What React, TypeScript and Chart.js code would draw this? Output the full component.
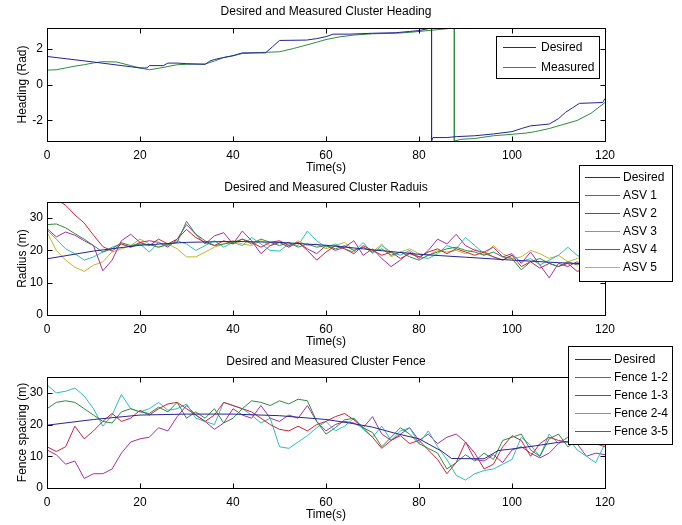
import React, { useEffect, useRef } from "react";
import { Chart, registerables } from "chart.js";

Chart.register(...registerables);

const FONT = "'Liberation Sans', Arial, Helvetica, sans-serif";

// ---------- Tick labels ----------
const timeTicks = [0, 20, 40, 60, 80, 100, 120];
const headingTicks = [-2, 0, 2];
const radiusTicks = [0, 10, 20, 30];
const fenceTicks = [0, 10, 20, 30];

// ---------- Heading subplot ----------
const desiredHeadingTime = [0, 10, 20, 21.5, 22, 25, 26, 28, 30, 34, 35, 36, 38, 40, 42, 47, 48.5, 50, 55.8, 58, 60, 61.5, 65, 70, 75, 78, 80, 82.7, 82.7, 83, 86, 88, 92, 96, 100, 102, 104, 108, 110, 111.5, 113, 114.5, 119.5, 120];
const desiredHeading = [1.56, 1.25, 0.92, 0.92, 1.05, 1.05, 1.19, 1.19, 1.16, 1.12, 1.3, 1.39, 1.5, 1.6, 1.76, 1.76, 2.1, 2.45, 2.47, 2.55, 2.66, 2.8, 2.8, 2.85, 2.88, 2.95, 3.0, 3.1416, -3.1416, -2.95, -2.95, -2.9, -2.85, -2.75, -2.62, -2.45, -2.3, -2.2, -1.9, -1.55, -1.3, -1.05, -1.0, -0.78];
const measuredHeadingTime = [0, 2, 4, 6, 8, 10, 12, 15, 18, 20, 22, 24, 26, 28, 30, 34, 36, 38, 40, 42, 46, 50, 53, 55, 58, 60, 63, 66, 70, 75, 78, 80, 84, 87.6, 87.6, 89, 92, 96, 100, 103, 105, 108, 110.5, 114, 117, 120];
const measuredHeading = [0.8, 0.82, 0.92, 1.02, 1.1, 1.2, 1.27, 1.25, 1.05, 0.92, 0.82, 0.9, 1.0, 1.1, 1.12, 1.14, 1.3, 1.5, 1.6, 1.72, 1.78, 1.82, 2.0, 2.14, 2.35, 2.5, 2.65, 2.75, 2.82, 2.85, 2.9, 2.95, 3.05, 3.1416, -3.1416, -3.05, -3.0, -2.85, -2.77, -2.7, -2.62, -2.45, -2.26, -2.0, -1.6, -1.0];

// ---------- Shared sample times for measured series ----------
const sampleTime = [0, 2, 4, 6, 8, 10, 12, 14, 16, 18, 20, 22, 24, 26, 28, 30, 32, 34, 36, 38, 40, 42, 44, 46, 48, 50, 52, 54, 56, 58, 60, 62, 64, 66, 68, 70, 72, 74, 76, 78, 80, 82, 84, 86, 88, 90, 92, 94, 96, 98, 100, 102, 104, 106, 108, 110, 112, 114, 116, 118, 120];

// ---------- Radius subplot ----------
const desiredRadiusTime = [0, 10, 20, 30, 40, 50, 60, 70, 80, 90, 100, 110, 120];
const desiredRadius = [17.4, 19.8, 21.6, 22.5, 22.8, 22.5, 21.6, 20.2, 18.8, 17.9, 17.0, 16.2, 15.6];
const asv1 = [28.0, 28.2, 27.0, 25.2, 23.5, 21.5, 19.5, 20.5, 22.4, 21.5, 22.0, 21.8, 21.0, 21.8, 22.5, 29.0, 25.0, 23.0, 21.5, 22.0, 22.5, 23.5, 22.0, 23.5, 22.5, 21.5, 22.5, 21.0, 22.0, 21.0, 21.5, 20.5, 21.5, 20.0, 21.0, 19.5, 20.5, 18.5, 19.5, 18.0, 17.0, 18.5, 19.5, 20.5, 21.0, 20.0, 19.5, 18.5, 19.5, 18.0, 17.5, 14.0, 16.5, 17.5, 16.0, 15.0, 16.5, 15.5, 17.0, 16.0, 15.5];
const asv2 = [37, 35.8, 34.0, 31.0, 28.5, 24.7, 21.2, 19.8, 22, 21, 22.5, 21.5, 23.5, 22.0, 23.5, 26.5, 24.0, 22.5, 21.5, 23.0, 22.0, 23.5, 22.5, 21.0, 22.5, 23.0, 21.5, 22.5, 20.0, 17.0, 19.5, 21.5, 20.5, 19.0, 21.5, 20.0, 18.5, 19.5, 17.5, 19.0, 18.0, 19.5, 20.5, 19.0, 20.5, 19.5, 18.5, 19.5, 18.0, 17.0, 18.5, 15.0, 16.5, 14.5, 16.0, 15.0, 16.0, 13.5, 14.5, 13.0, 14.0];
const asv3 = [26.3, 23.5, 20.5, 19.0, 17.0, 18.0, 19.5, 21.0, 22.0, 21.0, 22.0, 19.5, 22.5, 21.5, 23.0, 22.0, 20.0, 21.5, 23.0, 21.0, 22.5, 21.5, 24.0, 22.0, 20.0, 19.8, 22.0, 21.5, 26.0, 23.0, 21.0, 22.0, 20.5, 19.5, 22.5, 19.0, 21.5, 19.5, 18.5, 20.0, 18.0, 17.5, 19.0, 21.5, 20.5, 24.0, 21.5, 19.0, 18.0, 17.0, 18.5, 16.5, 17.5, 15.5, 17.0, 18.5, 21.0, 18.5, 17.0, 18.0, 17.5];
const asv4 = [26.8, 24.2, 25.7, 24.7, 23.0, 21.5, 13.7, 17.0, 23.0, 25.0, 22.5, 23.0, 22.5, 21.0, 23.5, 28.0, 25.0, 22.0, 24.5, 25.5, 22.0, 26.0, 23.0, 19.0, 21.5, 22.5, 21.0, 22.5, 20.5, 19.0, 21.5, 20.0, 21.0, 23.0, 18.5, 20.5, 17.5, 15.0, 17.0, 19.5, 17.5, 20.0, 23.5, 22.0, 25.0, 21.5, 20.0, 19.5, 21.0, 18.0, 19.0, 16.0, 19.5, 15.5, 11.5, 16.0, 15.0, 16.5, 14.0, 13.0, 14.0];
const asv5 = [25.7, 20.0, 17.0, 14.8, 13.5, 15.4, 16.5, 19.5, 20.5, 21.5, 23.5, 22.0, 21.0, 22.0, 20.5, 18.0, 18.0, 19.5, 21.0, 22.0, 23.0, 22.0, 21.5, 23.0, 21.5, 22.5, 21.0, 23.0, 21.5, 22.0, 20.5, 21.5, 22.5, 20.0, 21.0, 19.5, 22.0, 18.0, 19.5, 20.5, 19.0, 18.5, 20.0, 19.5, 20.0, 19.0, 20.5, 18.5, 21.5, 19.0, 17.5, 18.0, 20.0, 19.0, 17.5, 18.5, 16.5, 17.5, 18.5, 17.0, 18.0];

// ---------- Fence subplot ----------
const desiredFenceTime = [0, 10, 20, 30, 40, 50, 60, 65, 70, 75, 80, 85, 87, 94, 97, 100, 105, 110, 115, 120];
const desiredFence = [19.8, 21.6, 23.0, 23.3, 23.3, 22.8, 21.6, 20.5, 19.2, 17.2, 15.5, 11.5, 9.3, 9.2, 11.8, 12.3, 13.3, 14.4, 14.8, 15.0];
const fence12 = [25, 27, 27.5, 27, 25, 23, 21, 20.5, 24, 25, 24, 23.5, 25.5, 24, 27, 22, 24, 22, 25, 20.5, 22, 25, 27.5, 27, 26, 27.5, 26.5, 28, 27.5, 21, 17, 19, 21.5, 22, 19, 17.5, 13, 16, 19, 17, 14, 12.5, 11, 6, 8, 10.5, 8.5, 11, 9, 15, 16, 17, 12, 10, 15.5, 17, 13, 15, 16, 17, 15];
const fence13 = [13, 11.5, 13, 19.5, 15.5, 18, 21, 23.5, 21, 22, 24.5, 23, 25, 26.5, 27, 25, 23, 21, 23, 27, 26, 25, 24, 22, 20, 18.5, 18, 19.5, 18, 20, 21, 22.5, 23.5, 21.5, 19, 16, 12.5, 15, 16.5, 14, 15, 12, 9, 4.5, 8, 14.5, 11, 6, 7.5, 13, 16.5, 15, 10, 14, 16, 15, 14.5, 15.5, 16, 14, 13];
const fence24 = [32.5, 30, 30.5, 31.5, 29, 25, 19.5, 23, 29.5, 25, 24, 25, 27, 24.5, 25, 26.5, 22, 21, 20, 27, 26, 25, 23, 20.5, 22, 13, 12.5, 14.5, 16.5, 19, 21, 18, 19.5, 22, 18.5, 16, 19.5, 15, 18, 19, 14, 18, 13, 9, 4, 2.5, 4.5, 5.5, 6, 7.5, 9, 16, 13.5, 10, 17, 14, 16, 12, 10, 8, 14];
const fence35 = [12, 10.5, 7.5, 8.5, 3, 4.5, 4.5, 6, 11, 14.5, 15.5, 16, 19, 18, 22.5, 26, 23, 21, 18.5, 20.5, 25, 23, 22, 26, 22, 21, 23, 22, 26, 21, 18, 20, 21, 20.5, 19, 22.5, 17, 15, 17, 19, 15, 17, 14, 16, 17, 14.5, 9, 8.5, 10.5, 8, 12, 13, 11, 9.5, 11, 14, 16, 14, 10, 11, 10.5];

// ---------- Colours ----------
const C_DESIRED = "#24249c";
const C_GREEN = "#2e8b3e";
const C_RED = "#d42038";
const C_CYAN = "#2cbdbd";
const C_MAGENTA = "#a42ea4";
const C_YELLOW = "#c4b624";

const W = 682;
const H = 525;
const XH = 35; // x-axis band height
const YW = 47; // y-axis band width
const RIGHT_PAD = 77;

const pts = (xs: number[], ys: number[]) => xs.map((x, i) => ({ x, y: ys[i] }));

const line = (label: string, color: string, xs: number[], ys: number[]) => ({
  label,
  data: pts(xs, ys),
  borderColor: color,
  backgroundColor: color,
  borderWidth: 1,
  pointRadius: 0,
  fill: false,
  tension: 0,
});

const framePlugin = {
  id: "frame",
  afterDatasetsDraw(chart: any) {
    const { ctx, chartArea: a, scales } = chart;
    const x0 = Math.round(a.left) + 0.5;
    const x1 = Math.round(a.right) + 0.5;
    const y0 = Math.round(a.top) + 0.5;
    const y1 = Math.round(a.bottom) + 0.5;
    ctx.save();
    ctx.strokeStyle = "#000";
    ctx.lineWidth = 1;
    ctx.strokeRect(x0, y0, x1 - x0, y1 - y0);
    const TL = 5;
    ctx.beginPath();
    scales.x.ticks.forEach((t: any) => {
      const px = Math.round(scales.x.getPixelForValue(t.value)) + 0.5;
      ctx.moveTo(px, y1);
      ctx.lineTo(px, y1 - TL);
      ctx.moveTo(px, y0);
      ctx.lineTo(px, y0 + TL);
    });
    scales.y.ticks.forEach((t: any) => {
      const py = Math.round(scales.y.getPixelForValue(t.value)) + 0.5;
      ctx.moveTo(x0, py);
      ctx.lineTo(x0 + TL, py);
      ctx.moveTo(x1, py);
      ctx.lineTo(x1 - TL, py);
    });
    ctx.stroke();
    ctx.restore();
  },
};

const boxLegendPlugin = {
  id: "boxLegend",
  afterDraw(chart: any, _args: any, o: any) {
    if (!o || !o.box) return;
    const { ctx } = chart;
    const [bx, by, bw, bh] = o.box;
    ctx.save();
    ctx.fillStyle = "#fff";
    ctx.fillRect(bx, by, bw, bh);
    ctx.strokeStyle = "#000";
    ctx.lineWidth = 1;
    ctx.strokeRect(bx + 0.5, by + 0.5, bw, bh);
    ctx.font = `12px ${FONT}`;
    ctx.textBaseline = "middle";
    ctx.textAlign = "left";
    chart.data.datasets.forEach((ds: any, i: number) => {
      const y = Math.round(o.rowY + i * o.rowStep);
      const meta = chart.getDatasetMeta(i);
      const col =
        (meta && meta.dataset && meta.dataset.options && meta.dataset.options.borderColor) || ds.borderColor;
      ctx.fillStyle = col;
      ctx.fillRect(o.lineX0, y, o.lineX1 - o.lineX0, 1);
      ctx.fillStyle = "#000";
      ctx.fillText(ds.label, o.textX, y + 0.5);
    });
    ctx.restore();
  },
};

const font12 = { family: FONT, size: 12, weight: "normal" as const };

function panelOptions(p: any) {
  return {
    responsive: false,
    animation: false,
    devicePixelRatio: 1,
    events: [],
    layout: {
      padding: {
        left: 0,
        right: RIGHT_PAD,
        top: p.axTop - p.titleGap - 7.2,
        bottom: H - p.axBottom - XH,
      },
    },
    plugins: {
      legend: { display: false },
      tooltip: { enabled: false },
      title: {
        display: true,
        text: p.title,
        fullSize: false,
        color: "#000",
        font: font12,
        padding: { top: 0, bottom: p.titleGap - 7.2 },
      },
      boxLegend: p.legend,
    },
    scales: {
      x: {
        type: "linear",
        min: 0,
        max: 120,
        grid: { display: false, drawTicks: false },
        border: { display: false },
        ticks: { color: "#000", font: font12, padding: 7, maxRotation: 0, autoSkip: false },
        afterBuildTicks: (s: any) => {
          s.ticks = timeTicks.map((v) => ({ value: v }));
        },
        afterFit: (s: any) => {
          s.height = XH;
          s.paddingLeft = 0;
          s.paddingRight = 0;
        },
        title: { display: true, text: "Time(s)", color: "#000", font: font12, padding: { top: 0, bottom: 1 } },
      },
      y: {
        type: "linear",
        min: p.yMin,
        max: p.yMax,
        grid: { display: false, drawTicks: false },
        border: { display: false },
        ticks: { color: "#000", font: font12, padding: 4, autoSkip: false },
        afterBuildTicks: (s: any) => {
          s.ticks = p.yTicks.map((v: number) => ({ value: v }));
        },
        afterFit: (s: any) => {
          s.width = YW;
          s.paddingTop = 0;
          s.paddingBottom = 0;
        },
        title: { display: true, text: p.yTitle, color: "#000", font: font12, padding: { top: 15, bottom: 0 } },
      },
    },
  };
}

export default function App() {
  const c1 = useRef<HTMLCanvasElement>(null);
  const c2 = useRef<HTMLCanvasElement>(null);
  const c3 = useRef<HTMLCanvasElement>(null);

  useEffect(() => {
    const charts: Chart[] = [];
    charts.push(
      new Chart(c1.current as HTMLCanvasElement, {
        type: "line",
        data: {
          datasets: [
            line("Desired", C_DESIRED, desiredHeadingTime, desiredHeading),
            line("Measured", C_GREEN, measuredHeadingTime, measuredHeading),
          ],
        },
        options: panelOptions({
          axTop: 28,
          axBottom: 141,
          titleGap: 16.5,
          title: "Desired and Measured Cluster Heading",
          yTitle: "Heading (Rad)",
          yMin: -Math.PI,
          yMax: Math.PI,
          yTicks: headingTicks,
          legend: { box: [496, 36, 103, 42], rowY: 47, rowStep: 19.5, lineX0: 503, lineX1: 536, textX: 541 },
        }) as any,
        plugins: [framePlugin, boxLegendPlugin],
      })
    );
    charts.push(
      new Chart(c2.current as HTMLCanvasElement, {
        type: "line",
        data: {
          datasets: [
            line("Desired", C_DESIRED, desiredRadiusTime, desiredRadius),
            line("ASV 1", C_GREEN, sampleTime, asv1),
            line("ASV 2", C_RED, sampleTime, asv2),
            line("ASV 3", C_CYAN, sampleTime, asv3),
            line("ASV 4", C_MAGENTA, sampleTime, asv4),
            line("ASV 5", C_YELLOW, sampleTime, asv5),
          ],
        },
        options: panelOptions({
          axTop: 202,
          axBottom: 315,
          titleGap: 14.5,
          title: "Desired and Measured Cluster Raduis",
          yTitle: "Radius (m)",
          yMin: 0,
          yMax: 35,
          yTicks: radiusTicks,
          legend: { box: [579, 165, 93, 116], rowY: 177, rowStep: 18, lineX0: 585, lineX1: 620, textX: 623 },
        }) as any,
        plugins: [framePlugin, boxLegendPlugin],
      })
    );
    charts.push(
      new Chart(c3.current as HTMLCanvasElement, {
        type: "line",
        data: {
          datasets: [
            line("Desired", C_DESIRED, desiredFenceTime, desiredFence),
            line("Fence 1-2", C_GREEN, sampleTime, fence12),
            line("Fence 1-3", C_RED, sampleTime, fence13),
            line("Fence 2-4", C_CYAN, sampleTime, fence24),
            line("Fence 3-5", C_MAGENTA, sampleTime, fence35),
          ],
        },
        options: panelOptions({
          axTop: 377,
          axBottom: 488,
          titleGap: 15.5,
          title: "Desired and Measured Cluster Fence",
          yTitle: "Fence spacing (m)",
          yMin: 0,
          yMax: 35,
          yTicks: fenceTicks,
          legend: { box: [568, 346, 104, 98], rowY: 359, rowStep: 18, lineX0: 575, lineX1: 611, textX: 614 },
        }) as any,
        plugins: [framePlugin, boxLegendPlugin],
      })
    );
    return () => charts.forEach((c) => c.destroy());
  }, []);

  const cs: React.CSSProperties = { position: "absolute", left: 0, top: 0, display: "block" };
  return (
    <div style={{ position: "absolute", left: 0, top: 0, width: W, height: H, background: "#fff" }}>
      <canvas ref={c1} width={W} height={H} style={cs} />
      <canvas ref={c2} width={W} height={H} style={cs} />
      <canvas ref={c3} width={W} height={H} style={cs} />
    </div>
  );
}
